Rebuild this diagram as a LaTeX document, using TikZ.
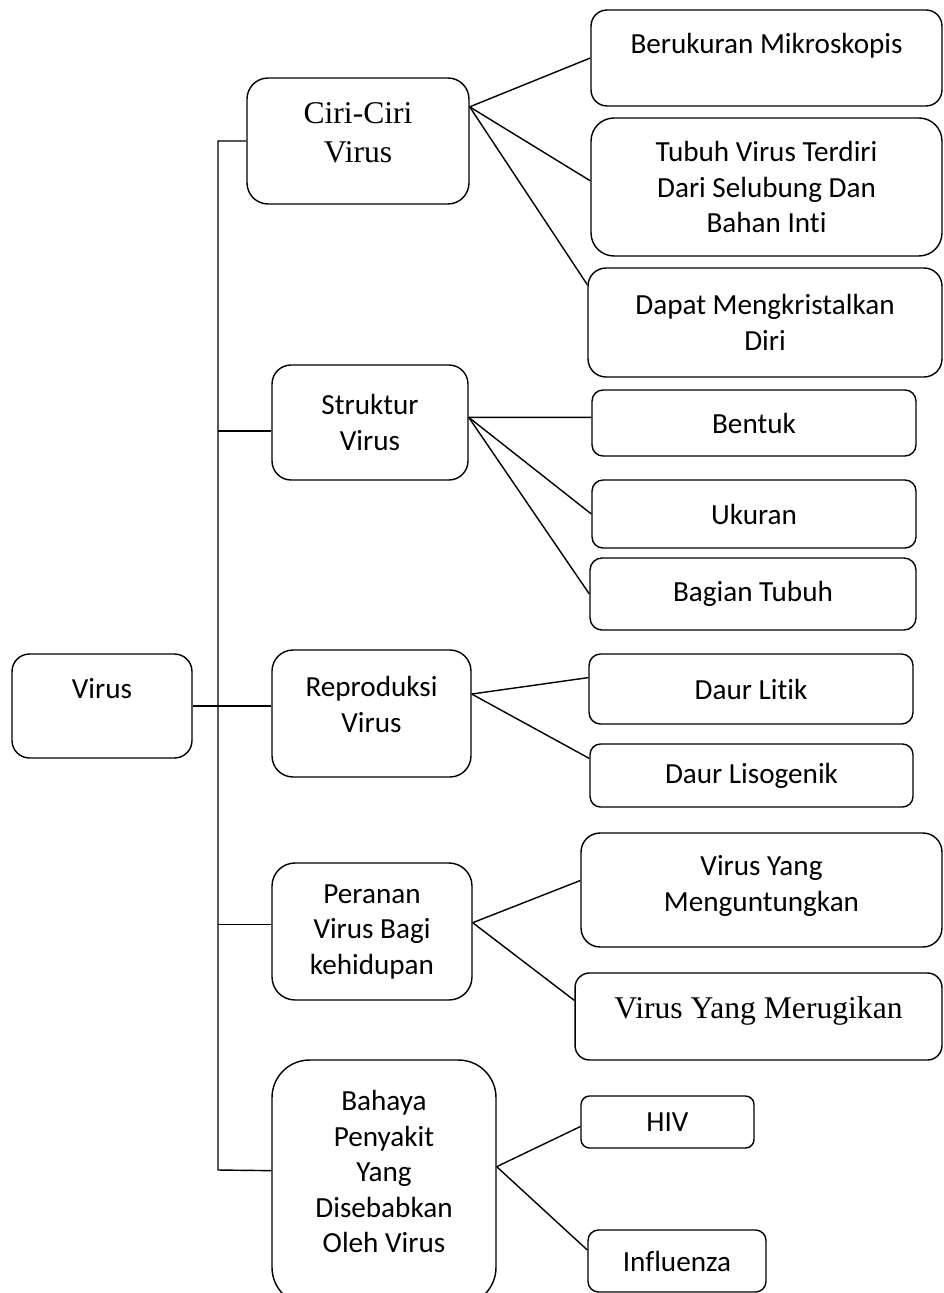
\documentclass[tikz,border=0pt]{standalone}
\usepackage{fontspec}
\setmainfont[Ligatures=NoCommon]{Carlito}
\newfontfamily\timesfont{Liberation Serif}
\begin{document}
\begin{tikzpicture}[x=0.02cm, y=-0.02cm, line width=0.8pt,
        box/.style={shape=rectangle, draw=black, rounded corners=#1, align=center, inner sep=0pt,
            font=\fontsize{16.6}{20.2}\selectfont},
        tbox/.style={box=#1, font=\timesfont\fontsize{18}{22}\selectfont}]
                \useasboundingbox (0,0) rectangle (943,1293);

                \node[box=0.35cm, minimum width=3.6cm, minimum height=2.08cm] (V) at (102,706) {Virus\\\mbox{}};

                \node[tbox=0.42cm, minimum width=4.44cm, minimum height=2.52cm] (Ciri) at (358,141) {Ciri-Ciri\\Virus\\[-12pt]\mbox{}};
                \node[box=0.38cm, minimum width=3.92cm, minimum height=2.30cm] (Struktur) at (370,422.5) {Struktur\\Virus};
                \node[box=0.42cm, minimum width=3.98cm, minimum height=2.54cm] (Repro) at (371.5,713.5) {Reproduksi\\Virus\\[-10pt]\mbox{}};
                \node[box=0.46cm, minimum width=4.0cm, minimum height=2.74cm] (Peranan) at (372,931.5) {Peranan\\Virus Bagi\\kehidupan};
                \node[box=0.75cm, minimum width=4.48cm, minimum height=4.90cm] (Bahaya) at (384,1182.5) {Bahaya\\Penyakit\\Yang\\Disebabkan\\Oleh Virus\\[-8pt]\mbox{}};

                \node[box=0.32cm, minimum width=7.02cm, minimum height=1.92cm] (Beruk) at (766.5,58) {Berukuran Mikroskopis\\[-3pt]\mbox{}};
                \node[box=0.46cm, minimum width=7.02cm, minimum height=2.76cm] (Tubuh) at (766.5,187) {Tubuh Virus Terdiri\\Dari Selubung Dan\\Bahan Inti};
                \node[box=0.36cm, minimum width=7.08cm, minimum height=2.18cm] (Dapat) at (765,322.5) {Dapat Mengkristalkan\\Diri};

                \node[box=0.22cm, minimum width=6.48cm, minimum height=1.32cm] (Bentuk) at (754,423) {Bentuk};
                \node[box=0.22cm, minimum width=6.48cm, minimum height=1.36cm] (Ukuran) at (754,514) {Ukuran};
                \node[box=0.24cm, minimum width=6.52cm, minimum height=1.44cm] (Bagian) at (753,594) {Bagian Tubuh};

                \node[box=0.23cm, minimum width=6.48cm, minimum height=1.40cm] (Litik) at (751,689) {Daur Litik};
                \node[box=0.21cm, minimum width=6.46cm, minimum height=1.26cm] (Liso) at (751.5,775.5) {Daur Lisogenik};

                \node[box=0.38cm, minimum width=7.22cm, minimum height=2.28cm] (Untung) at (761.5,890) {Virus Yang\\Menguntungkan\\[-13pt]\mbox{}};
                \node[tbox=0.29cm, minimum width=7.34cm, minimum height=1.74cm] (Rugi) at (758.5,1016.5) {Virus Yang Merugikan\\[-12pt]\mbox{}};

                \node[box=0.17cm, minimum width=3.46cm, minimum height=1.04cm] (HIV) at (667.5,1122) {HIV};
                \node[box=0.21cm, minimum width=3.56cm, minimum height=1.24cm] (Flu) at (677,1261) {Influenza};

                % trunk
                \coordinate (T) at (218,1170);
                \path [draw] (Ciri.west) -| (T) -- (Bahaya.174);
                \path [draw] (Struktur.185) -- (Struktur.185 -| T);
                \path [draw] (V.east) -- (V.east -| Repro.west);
                \path [draw] (Peranan.176) -- (Peranan.176 -| T);

                % branches
                \path [draw] (Ciri.17) edge (Beruk.west);
                \path [draw] (Ciri.17) edge (Tubuh.178);
                \path [draw] (Ciri.17) edge (Dapat.168);
                \path [draw] (Struktur.3) edge (Bentuk.178);
                \path [draw] (Struktur.3) edge (Ukuran.west);
                \path [draw] (Struktur.3) edge (Bagian.west);
                \path [draw] (Repro.11) edge (Litik.176);
                \path [draw] (Repro.11) edge (Liso.174);
                \path [draw] (Peranan.5) edge (Untung.177);
                \path [draw] (Peranan.5) edge (Rugi.175);
                \path [draw] (Bahaya.8) edge (HIV.183);
                \path [draw] (Bahaya.8) edge (Flu.173);
            \end{tikzpicture}
\end{document}
